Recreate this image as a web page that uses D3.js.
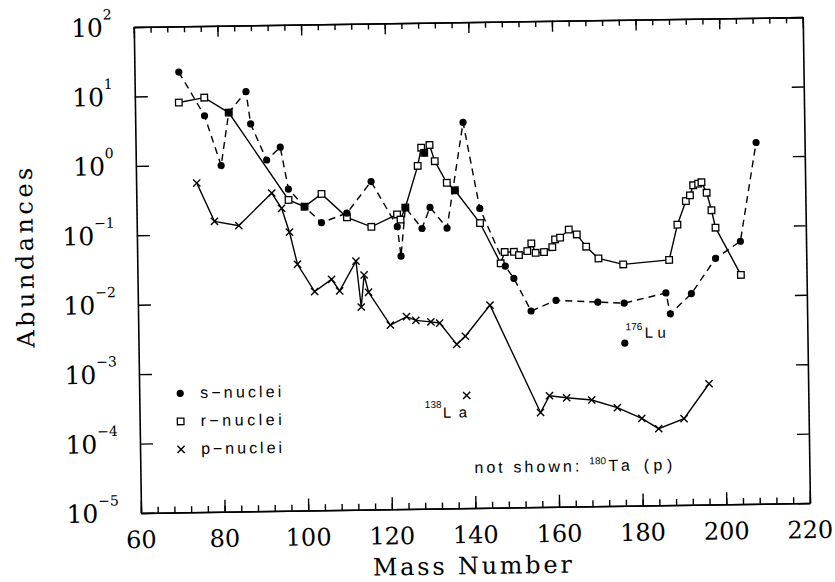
<!DOCTYPE html>
<html>
<head>
    <title></title>
    <meta http-equiv="content-type" content="text/html; charset=utf-8">
    <script type="text/javascript" src="https://cdn.jsdelivr.net/npm/d3@7/dist/d3.min.js"></script>
    <style>
        body { margin: 0; background: #fff; }
    </style>
</head>
<body>
<div class='chart'></div>
<script type="text/javascript">
// ======================
// data (mass number, abundance)
// ======================
var sMass = [70.6, 76.6, 80.4, 82.4, 86.6, 87.6, 91.3, 94.6, 96.4, 100.2, 104.2, 110.3, 116.2, 122.3, 123.1,
    124.3, 128.2, 130.2, 134.2, 138.4, 142.1, 148, 150, 154, 160, 170, 176.3, 186.3, 187.3, 192.4, 198.3, 204.3, 208.4];
var sAbund = [22, 5.1, 0.97, 5.6, 11.1, 3.8, 1.14, 1.73, 0.43, 0.238, 0.139, 0.188, 0.53, 0.117, 0.044,
    0.22, 0.109, 0.219, 0.109, 3.6, 0.206, 0.030, 0.0199, 0.0067, 0.0094, 0.0087, 0.0083, 0.0114, 0.0057, 0.011, 0.035, 0.061, 1.6];
// s points not on the dashed line
var sExtraMass = [129, 136.2];
var sExtraAbund = [1.34, 0.38];
var luMass = [176.3];
var luAbund = [0.0022];

var rMass = [70.5, 76.6, 82.4, 96.4, 100.2, 104.3, 110.3, 116.1, 122.3, 123.1, 124.3, 127.4, 128.3, 129, 130.3,
    131.5, 134.3, 136.2, 142.1, 146.9, 147.9, 150.1, 151.3, 153.3, 154.3, 155.3, 157.3, 159.3, 160, 161.2,
    163.3, 165.2, 167.4, 170.3, 176.2, 187.2, 189.3, 191.4, 192.4, 193.2, 194.4, 195.2, 196.4, 197.5, 198.4, 204.3];
var rAbund = [8.0, 9.3, 5.6, 0.30, 0.238, 0.36, 0.164, 0.118, 0.176, 0.148, 0.22, 0.87, 1.59, 1.34, 1.73,
    1.01, 0.49, 0.38, 0.127, 0.033, 0.048, 0.048, 0.043, 0.049, 0.063, 0.046, 0.047, 0.055, 0.071, 0.075,
    0.098, 0.083, 0.055, 0.037, 0.030, 0.034, 0.109, 0.238, 0.287, 0.40, 0.42, 0.44, 0.31, 0.173, 0.097, 0.020];

var pMass = [74.5, 78.6, 84.4, 92.4, 94.7, 96.5, 98.3, 102.3, 106.4, 108.3, 112.3, 113.4, 114.2, 115.2, 120.3,
    124.2, 126.4, 130, 132.1, 136.1, 138.2, 144.2, 155.9, 158.1, 162.2, 168.2, 174.3, 180.1, 184.1, 190.2, 196.3];
var pAbund = [0.55, 0.153, 0.131, 0.38, 0.228, 0.103, 0.0354, 0.0142, 0.0211, 0.0143, 0.0381, 0.0083, 0.024, 0.0135, 0.0045,
    0.0059, 0.0052, 0.0049, 0.0047, 0.0023, 0.0030, 0.0083, 2.3e-4, 4.0e-4, 3.7e-4, 3.4e-4, 2.6e-4, 1.8e-4, 1.27e-4, 1.75e-4, 5.5e-4];
var laMass = [138.3];
var laAbund = [4.2e-4];

var xMajor = [60, 80, 100, 120, 140, 160, 180, 200, 220];
var yExp = [2, 1, 0, -1, -2, -3, -4, -5];
var legendLabels = ['s\u2212nuclei', 'r\u2212nuclei', 'p\u2212nuclei'];

// ======================
// layout
// ======================
var W = 835, H = 582;
var mLeft = 141, mRight = 810, mTop = 27, mBottom = 513;
var serif = '"DejaVu Serif", serif';
var sans = '"Liberation Sans", Arial, sans-serif';

var svg = d3.select('.chart').append('svg')
        .attr('width', W)
        .attr('height', H);
svg.append('rect').attr('width', W).attr('height', H).attr('fill', '#fff');

// the scanned page is tilted a little
var g = svg.append('g')
        .attr('transform', 'rotate(-0.85,' + mLeft + ',' + mBottom + ')');

var x = d3.scaleLinear().domain([60, 220]).range([mLeft, mRight]);
var y = d3.scaleLog().domain([1e-5, 1e2]).range([mBottom, mTop]);

function zip(a, b) {
    return a.map(function (v, i) { return [v, b[i]]; });
}

// ======================
// axes
// ======================
function axis(gen, tx, ty, vals, size) {
    var a = g.append('g')
            .attr('transform', 'translate(' + tx + ',' + ty + ')')
            .call(gen.tickValues(vals).tickSize(size).tickSizeOuter(0).tickFormat(''));
    a.select('.domain').attr('stroke', '#000').attr('stroke-width', 1.6);
    a.selectAll('.tick line').attr('stroke', '#000').attr('stroke-width', 1.4);
    return a;
}
var minorX = d3.range(60, 221, 4);
var decades = yExp.map(function (e) { return Math.pow(10, e); });

axis(d3.axisBottom(x), 0, mBottom, minorX, -6);
axis(d3.axisBottom(x), 0, mBottom, xMajor, -12);
axis(d3.axisTop(x), 0, mTop, minorX, -6);
axis(d3.axisTop(x), 0, mTop, xMajor, -11);
axis(d3.axisLeft(y), mLeft, 0, decades, -13);
axis(d3.axisRight(y), mRight, 0, decades, -12);

// x tick labels
g.selectAll('.xlab').data(xMajor).enter().append('text')
        .attr('x', function (d) { return x(d); })
        .attr('y', 548)
        .attr('text-anchor', 'middle')
        .attr('font-family', serif)
        .attr('font-size', 24)
        .text(function (d) { return d; });

// y tick labels 10^e
var yl = g.selectAll('.ylab').data(yExp).enter().append('text')
        .attr('x', 119)
        .attr('y', function (d) { return y(Math.pow(10, d)) + 9; })
        .attr('text-anchor', 'end')
        .attr('font-family', serif);
yl.append('tspan').attr('font-size', 25).text('10');
yl.append('tspan').attr('font-size', 14).attr('dy', -17)
        .text(function (d) { return d < 0 ? '\u2212' + (-d) : d; });

g.append('text')
        .attr('transform', 'translate(37,256) rotate(-90)')
        .attr('text-anchor', 'middle')
        .attr('font-family', serif)
        .attr('font-size', 24)
        .attr('textLength', 180)
        .attr('lengthAdjust', 'spacing')
        .text('Abundances');

g.append('text')
        .attr('x', 372)
        .attr('y', 579)
        .attr('font-family', serif)
        .attr('font-size', 24)
        .attr('textLength', 199)
        .attr('lengthAdjust', 'spacing')
        .text('Mass Number');

// ======================
// lines
// ======================
var line = d3.line()
        .x(function (d) { return x(d[0]); })
        .y(function (d) { return y(d[1]); });

g.append('path').datum(zip(sMass, sAbund))
        .attr('d', line).attr('fill', 'none').attr('stroke', '#000')
        .attr('stroke-width', 1.4).attr('stroke-dasharray', '7,5');
g.append('path').datum(zip(rMass, rAbund))
        .attr('d', line).attr('fill', 'none').attr('stroke', '#000').attr('stroke-width', 1.4);
g.append('path').datum(zip(pMass, pAbund))
        .attr('d', line).attr('fill', 'none').attr('stroke', '#000').attr('stroke-width', 1.4);

// ======================
// markers
// ======================
function circles(sel, pts) {
    sel.selectAll(null).data(pts).enter().append('circle')
            .attr('cx', function (d) { return d[0]; })
            .attr('cy', function (d) { return d[1]; })
            .attr('r', 3.6)
            .attr('fill', '#000');
}
function squares(sel, pts) {
    sel.selectAll(null).data(pts).enter().append('rect')
            .attr('x', function (d) { return d[0] - 3.3; })
            .attr('y', function (d) { return d[1] - 3.3; })
            .attr('width', 6.6).attr('height', 6.6)
            .attr('fill', '#fff').attr('stroke', '#000').attr('stroke-width', 1.3);
}
function crosses(sel, pts) {
    sel.selectAll(null).data(pts).enter().append('path')
            .attr('d', function (d) {
                var s = 3.6;
                return 'M' + (d[0] - s) + ',' + (d[1] - s) + 'L' + (d[0] + s) + ',' + (d[1] + s) +
                        'M' + (d[0] - s) + ',' + (d[1] + s) + 'L' + (d[0] + s) + ',' + (d[1] - s);
            })
            .attr('stroke', '#000').attr('stroke-width', 1.4).attr('fill', 'none');
}
function px(a, b) {
    return zip(a, b).map(function (d) { return [x(d[0]), y(d[1])]; });
}

squares(g, px(rMass, rAbund));
crosses(g, px(pMass, pAbund));
crosses(g, px(laMass, laAbund));
circles(g, px(sMass, sAbund));
circles(g, px(sExtraMass, sExtraAbund));
circles(g, px(luMass, luAbund));

// ======================
// annotations
// ======================
var lu = [x(luMass[0]), y(luAbund[0])];
g.append('text').attr('x', lu[0] + 1).attr('y', lu[1] - 13)
        .attr('font-family', sans).attr('font-size', 10).text('176');
g.append('text').attr('x', lu[0] + 20).attr('y', lu[1] - 5)
        .attr('font-family', sans).attr('font-size', 15)
        .attr('textLength', 21).attr('lengthAdjust', 'spacing').text('Lu');

var la = [x(laMass[0]), y(laAbund[0])];
g.append('text').attr('x', la[0] - 42).attr('y', la[1] + 12)
        .attr('font-family', sans).attr('font-size', 10).text('138');
g.append('text').attr('x', la[0] - 24).attr('y', la[1] + 22)
        .attr('font-family', sans).attr('font-size', 15)
        .attr('textLength', 24).attr('lengthAdjust', 'spacing').text('La');

g.append('text').attr('x', 475).attr('y', 478)
        .attr('font-family', sans).attr('font-size', 16)
        .attr('textLength', 105).attr('lengthAdjust', 'spacing').text('not shown:');
g.append('text').attr('x', 590).attr('y', 471)
        .attr('font-family', sans).attr('font-size', 10).text('180');
g.append('text').attr('x', 609).attr('y', 478)
        .attr('font-family', sans).attr('font-size', 16)
        .attr('textLength', 64).attr('lengthAdjust', 'spacing').text('Ta (p)');

// ======================
// legend
// ======================
var legY = [394, 422, 450];
var legX = mLeft + 41;
circles(g, [[legX, legY[0]]]);
squares(g, [[legX, legY[1]]]);
crosses(g, [[legX, legY[2]]]);
g.selectAll('.leg').data(legendLabels).enter().append('text')
        .attr('x', legX + 20)
        .attr('y', function (d, i) { return legY[i] + 5; })
        .attr('font-family', sans)
        .attr('font-size', 16)
        .attr('textLength', 81)
        .attr('lengthAdjust', 'spacing')
        .text(function (d) { return d; });
</script>
</body>
</html>
